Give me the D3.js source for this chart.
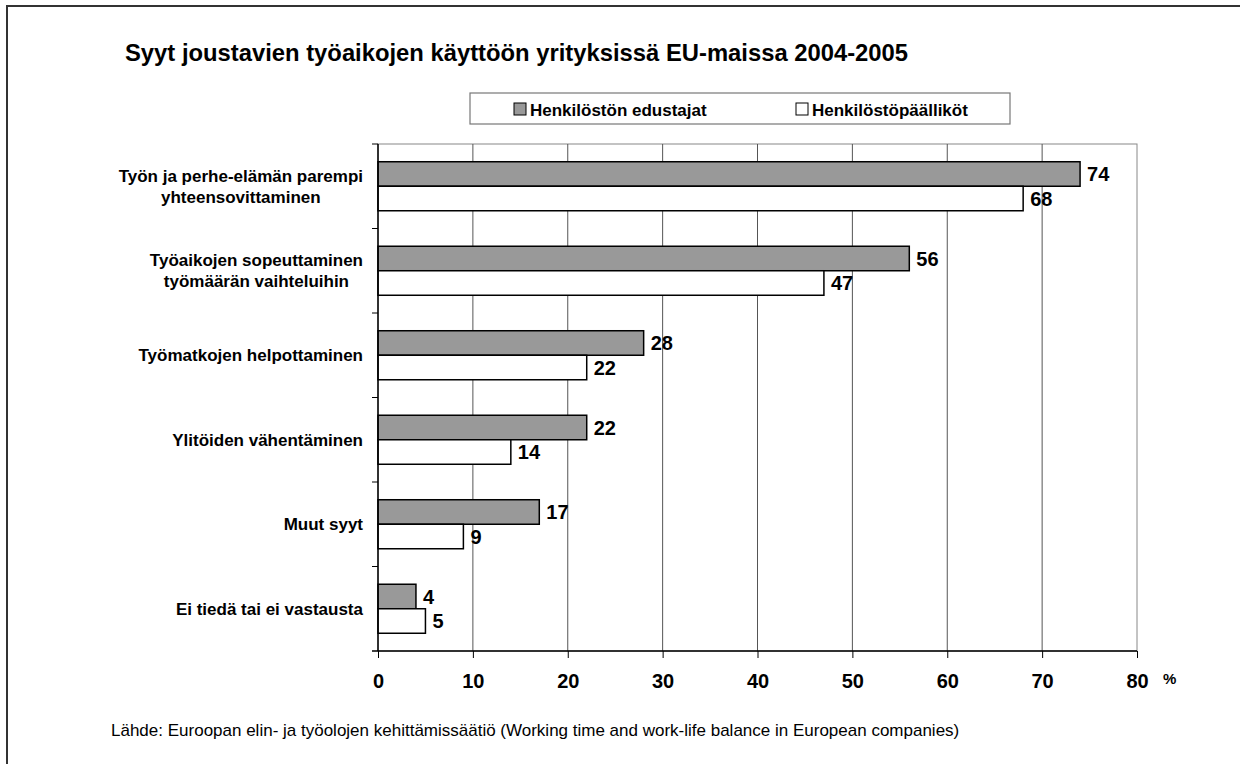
<!DOCTYPE html>
<html>
<head>
<meta charset="utf-8">
<script src="https://cdn.jsdelivr.net/npm/d3@7"></script>
<style>
  html, body { margin: 0; padding: 0; background: #fff; }
  svg { display: block; font-family: "Liberation Sans", Arial, sans-serif; }
</style>
</head>
<body>
<div id="chart"></div>
<script>
// --- Data ---
const categories = [
  ["Työn ja perhe-elämän parempi", "yhteensovittaminen"],
  ["Työaikojen sopeuttaminen", "työmäärän vaihteluihin"],
  ["Työmatkojen helpottaminen"],
  ["Ylitöiden vähentäminen"],
  ["Muut syyt"],
  ["Ei tiedä tai ei vastausta"]
];
const seriesNames = ["Henkilöstön edustajat", "Henkilöstöpäälliköt"];
const edustajat = [74, 56, 28, 22, 17, 4];
const paallikot = [68, 47, 22, 14, 9, 5];
const xTicks = [0, 10, 20, 30, 40, 50, 60, 70, 80];

const titleText = "Syyt joustavien työaikojen käyttöön yrityksissä EU-maissa 2004-2005";
const sourceText = "Lähde: Euroopan elin- ja työolojen kehittämissäätiö (Working time and work-life balance in European companies)";

document.addEventListener("DOMContentLoaded", function () {
  const width = 1240;
  const height = 764;
  const plot = { left: 378, right: 1137, top: 144, bottom: 651 };
  const fills = ["#999999", "#ffffff"];
  const series = [edustajat, paallikot];

  const svg = d3.select("#chart")
    .append("svg")
    .attr("width", width)
    .attr("height", height);

  // outer frame (runs off the right/bottom edge like the original)
  svg.append("rect")
    .attr("x", 7).attr("y", 6)
    .attr("width", 1400).attr("height", 900)
    .attr("fill", "none")
    .attr("stroke", "#333")
    .attr("stroke-width", 2);

  // Title
  svg.append("text")
    .attr("x", 125).attr("y", 61)
    .attr("font-size", "23.8px")
    .attr("font-weight", "bold")
    .text(titleText);

  const x = d3.scaleLinear()
    .domain([0, 80])
    .range([plot.left, plot.right]);

  const idx = d3.range(categories.length);
  const y = d3.scaleBand()
    .domain(idx)
    .range([plot.top, plot.bottom])
    .paddingInner(0.42)
    .paddingOuter(0.21);

  const y1 = d3.scaleBand()
    .domain([0, 1])
    .range([0, y.bandwidth()]);

  // plot area border
  svg.append("rect")
    .attr("x", plot.left).attr("y", plot.top)
    .attr("width", plot.right - plot.left)
    .attr("height", plot.bottom - plot.top)
    .attr("fill", "none")
    .attr("stroke", "#888")
    .attr("stroke-width", 1);

  // vertical gridlines
  svg.append("g")
    .selectAll("line")
    .data(xTicks.slice(1, -1))
    .join("line")
    .attr("x1", (d) => x(d)).attr("x2", (d) => x(d))
    .attr("y1", plot.top).attr("y2", plot.bottom)
    .attr("stroke", "#555")
    .attr("stroke-width", 1);

  // bars
  const groups = svg.append("g")
    .selectAll("g")
    .data(idx)
    .join("g")
    .attr("transform", (i) => `translate(0,${y(i)})`);

  groups.selectAll("rect")
    .data((i) => series.map((s, k) => ({ k: k, v: s[i] })))
    .join("rect")
    .attr("x", x(0))
    .attr("y", (d) => y1(d.k))
    .attr("width", (d) => x(d.v) - x(0))
    .attr("height", y1.bandwidth())
    .attr("fill", (d) => fills[d.k])
    .attr("stroke", "#000")
    .attr("stroke-width", 1.5);

  groups.selectAll("text")
    .data((i) => series.map((s, k) => ({ k: k, v: s[i] })))
    .join("text")
    .attr("x", (d) => x(d.v) + 7)
    .attr("y", (d) => y1(d.k) + y1.bandwidth() / 2)
    .attr("dy", "0.36em")
    .attr("font-size", "20px")
    .attr("font-weight", "bold")
    .text((d) => d.v);

  // bottom axis
  const xAxis = svg.append("g")
    .attr("transform", `translate(0,${plot.bottom})`)
    .call(d3.axisBottom(x)
      .tickValues(xTicks)
      .tickSize(7)
      .tickSizeOuter(0)
      .tickPadding(16));
  xAxis.select(".domain").remove();
  xAxis.selectAll(".tick line").attr("stroke", "#000");
  xAxis.selectAll(".tick text")
    .attr("font-size", "20px")
    .attr("font-weight", "bold")
    .attr("font-family", "Liberation Sans, Arial, sans-serif")
    .attr("fill", "#000");
  xAxis.append("line")
    .attr("x1", plot.left - 6).attr("x2", plot.right)
    .attr("y1", 0).attr("y2", 0)
    .attr("stroke", "#000")
    .attr("stroke-width", 1.5);

  // left axis with ticks between categories
  const boundaries = d3.range(categories.length + 1)
    .map((i) => plot.top + i * y.step());
  svg.append("line")
    .attr("x1", plot.left).attr("x2", plot.left)
    .attr("y1", plot.top).attr("y2", plot.bottom)
    .attr("stroke", "#000")
    .attr("stroke-width", 1.5);
  svg.append("g")
    .selectAll("line")
    .data(boundaries.slice(0, -1))
    .join("line")
    .attr("x1", plot.left - 6).attr("x2", plot.left)
    .attr("y1", (d) => d).attr("y2", (d) => d)
    .attr("stroke", "#000");

  // category labels: centred block, right-aligned at x = 363
  const lineH = 21;
  idx.forEach((i) => {
    const lines = categories[i];
    const cy = y(i) + y.bandwidth() / 2;
    const t = svg.append("text")
      .attr("font-size", "17px")
      .attr("font-weight", "bold")
      .attr("text-anchor", "middle");
    lines.forEach((ln, j) => {
      t.append("tspan")
        .attr("y", cy + (j - (lines.length - 1) / 2) * lineH)
        .attr("dy", "0.36em")
        .text(ln);
    });
    let maxW = 0;
    t.selectAll("tspan").each(function () {
      maxW = Math.max(maxW, this.getComputedTextLength());
    });
    t.selectAll("tspan").attr("x", 363 - maxW / 2);
  });

  // "%" unit
  svg.append("text")
    .attr("x", 1163).attr("y", 684)
    .attr("font-size", "15px")
    .attr("font-weight", "bold")
    .text("%");

  // legend
  const legend = svg.append("g");
  legend.append("rect")
    .attr("x", 470).attr("y", 93)
    .attr("width", 540).attr("height", 31)
    .attr("fill", "#fff")
    .attr("stroke", "#777")
    .attr("stroke-width", 1.2);
  const legX = [514, 796];
  seriesNames.forEach((name, k) => {
    legend.append("rect")
      .attr("x", legX[k]).attr("y", 103)
      .attr("width", 12).attr("height", 12)
      .attr("fill", fills[k])
      .attr("stroke", "#000")
      .attr("stroke-width", 1);
    legend.append("text")
      .attr("x", legX[k] + 16).attr("y", 115.5)
      .attr("font-size", "17px")
      .attr("font-weight", "bold")
      .text(name);
  });

  // source note
  svg.append("text")
    .attr("x", 111).attr("y", 736)
    .attr("font-size", "17px")
    .text(sourceText);
});
</script>
</body>
</html>
